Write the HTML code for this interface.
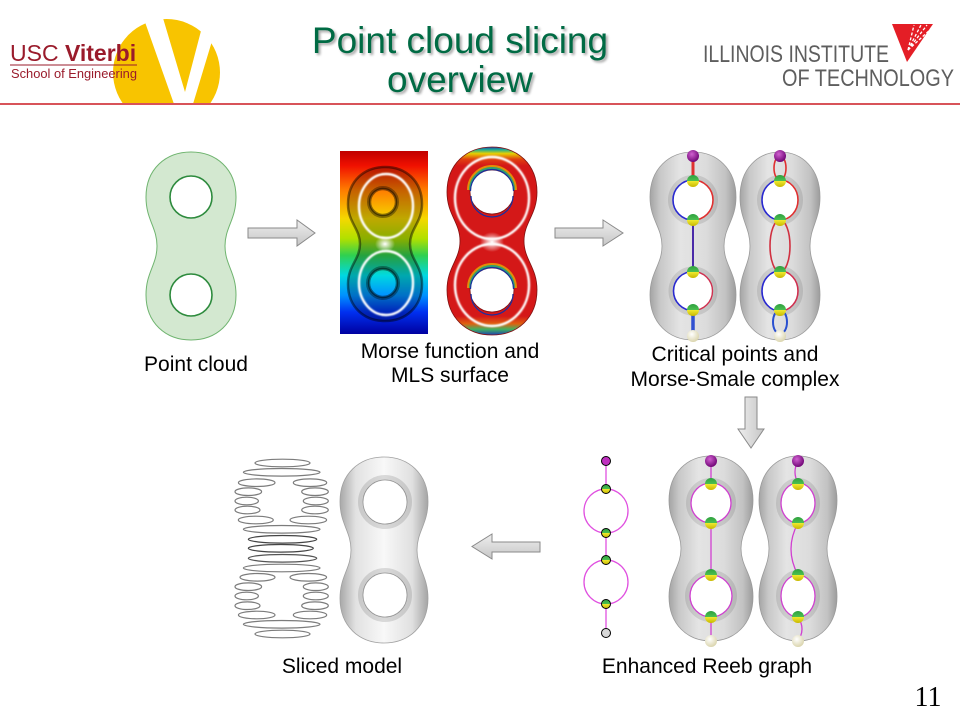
<!DOCTYPE html>
<html>
<head>
<meta charset="utf-8">
<style>
  html,body{margin:0;padding:0;background:#fff;}
  #root{position:relative;width:960px;height:720px;overflow:hidden;background:#fff;}
  svg{position:absolute;left:0;top:0;}
  text{font-family:"Liberation Sans",Arial,sans-serif;}
</style>
</head>
<body>
<div id="root">
<svg width="960" height="720" viewBox="0 0 960 720" xmlns="http://www.w3.org/2000/svg">
  <defs>
    <clipPath id="logoclip"><rect x="0" y="0" width="960" height="103"/></clipPath>
    <linearGradient id="rainbow" x1="0" y1="0" x2="0" y2="1">
      <stop offset="0" stop-color="#c00000"/>
      <stop offset="0.08" stop-color="#f01000"/>
      <stop offset="0.21" stop-color="#ff7a00"/>
      <stop offset="0.37" stop-color="#f5d800"/>
      <stop offset="0.48" stop-color="#b0e000"/>
      <stop offset="0.57" stop-color="#30d050"/>
      <stop offset="0.68" stop-color="#00d8e0"/>
      <stop offset="0.79" stop-color="#0090ff"/>
      <stop offset="0.88" stop-color="#0030f0"/>
      <stop offset="1" stop-color="#0000a0"/>
    </linearGradient>
    <linearGradient id="redfill" x1="0" y1="0" x2="0" y2="1">
      <stop offset="0" stop-color="#2040b0"/>
      <stop offset="0.015" stop-color="#20b090"/>
      <stop offset="0.035" stop-color="#e8d000"/>
      <stop offset="0.065" stop-color="#e04010"/>
      <stop offset="0.1" stop-color="#d41818"/>
      <stop offset="0.9" stop-color="#d41818"/>
      <stop offset="0.94" stop-color="#e06010"/>
      <stop offset="0.97" stop-color="#40b060"/>
      <stop offset="1" stop-color="#2040b0"/>
    </linearGradient>
    <linearGradient id="gray" x1="0" y1="0" x2="1" y2="0">
      <stop offset="0" stop-color="#a4a4a4"/>
      <stop offset="0.12" stop-color="#c8c8c8"/>
      <stop offset="0.35" stop-color="#e4e4e4"/>
      <stop offset="0.65" stop-color="#dcdcdc"/>
      <stop offset="0.88" stop-color="#c2c2c2"/>
      <stop offset="1" stop-color="#9c9c9c"/>
    </linearGradient>
    <linearGradient id="white" x1="0" y1="0" x2="1" y2="0">
      <stop offset="0" stop-color="#a8a8a8"/>
      <stop offset="0.18" stop-color="#e2e2e2"/>
      <stop offset="0.5" stop-color="#f8f8f8"/>
      <stop offset="0.82" stop-color="#e0e0e0"/>
      <stop offset="1" stop-color="#a4a4a4"/>
    </linearGradient>
    <linearGradient id="arrowg" x1="0" y1="0" x2="0" y2="1">
      <stop offset="0" stop-color="#eeeeee"/>
      <stop offset="1" stop-color="#c6c6c6"/>
    </linearGradient>
    <linearGradient id="arrowh" x1="0" y1="0" x2="1" y2="0">
      <stop offset="0" stop-color="#eeeeee"/>
      <stop offset="1" stop-color="#c6c6c6"/>
    </linearGradient>
    <linearGradient id="gy" x1="0" y1="0" x2="0" y2="1">
      <stop offset="0" stop-color="#2fa040"/>
      <stop offset="0.5" stop-color="#4cc050"/>
      <stop offset="0.5" stop-color="#f0ea30"/>
      <stop offset="1" stop-color="#c8b800"/>
    </linearGradient>
    <radialGradient id="purp" cx="0.4" cy="0.35" r="0.7">
      <stop offset="0" stop-color="#d060d0"/>
      <stop offset="1" stop-color="#6a0070"/>
    </radialGradient>
    <radialGradient id="cream" cx="0.4" cy="0.35" r="0.7">
      <stop offset="0" stop-color="#ffffff"/>
      <stop offset="1" stop-color="#d8d2a8"/>
    </radialGradient>
    <radialGradient id="glow" cx="0.5" cy="0.5" r="0.5">
      <stop offset="0" stop-color="#ffffff" stop-opacity="1"/>
      <stop offset="1" stop-color="#ffffff" stop-opacity="0"/>
    </radialGradient>
    <filter id="blur1"><feGaussianBlur stdDeviation="0.8"/></filter>
    <filter id="tshadow"><feGaussianBlur stdDeviation="1.2"/></filter>
  </defs>

  <!-- ===== Header ===== -->
  <g clip-path="url(#logoclip)">
    <circle cx="166.5" cy="72.5" r="53.5" fill="#f8c400"/>
    <polygon points="140,8 160,8 185,92 207,8 222,8 193,104 174,104" fill="#fff"/>
  </g>
  <text x="10" y="61" font-size="23" fill="#9a1b2b">USC <tspan font-weight="bold">Viterbi</tspan></text>
  <line x1="10" y1="65" x2="137" y2="65" stroke="#9a1b2b" stroke-width="1"/>
  <text x="11" y="78" font-size="13" fill="#9a1b2b" textLength="126" lengthAdjust="spacingAndGlyphs">School of Engineering</text>

  <!-- title -->
  <g font-size="37" text-anchor="middle">
    <g fill="#000" opacity="0.35" filter="url(#tshadow)">
      <text x="462" y="55">Point cloud slicing</text>
      <text x="462" y="94">overview</text>
    </g>
    <text x="460" y="53" fill="#006b44">Point cloud slicing</text>
    <text x="460" y="92" fill="#006b44">overview</text>
  </g>

  <!-- Illinois -->
  <text x="703" y="62" font-size="24" fill="#5e5e5e" textLength="186" lengthAdjust="spacingAndGlyphs">ILLINOIS INSTITUTE</text>
  <text x="782" y="86" font-size="24" fill="#5e5e5e" textLength="172" lengthAdjust="spacingAndGlyphs">OF TECHNOLOGY</text>
  <polygon points="892,24 933,24 907,62" fill="#e41e26"/>
  <g stroke="#fff" stroke-width="1.3" stroke-dasharray="3,2">
    <line x1="908" y1="50" x2="914" y2="25"/>
    <line x1="908" y1="50" x2="921" y2="25"/>
    <line x1="908" y1="50" x2="927" y2="25"/>
    <line x1="908" y1="50" x2="932" y2="28"/>
  </g>

  <line x1="0" y1="104" x2="960" y2="104" stroke="#cc1a22" stroke-width="1.5"/>

  <!-- ===== Point cloud ===== -->
  <path fill-rule="evenodd" fill="#d3e8d0" stroke="#6fb46f" stroke-width="1"
    d="M191,152 C216.2,152 236,168.9 236,197.1 C236,219.7 225,227.2 225,246 C225,264.8 236,272.3 236,294.9 C236,323.1 216.2,340 191,340 C165.8,340 146,323.1 146,294.9 C146,272.3 157,264.8 157,246 C157,227.2 146,219.7 146,197.1 C146,168.9 165.8,152 191,152 Z
       M170,197 a21,21 0 1,0 42,0 a21,21 0 1,0 -42,0 Z
       M170,295 a21,21 0 1,0 42,0 a21,21 0 1,0 -42,0 Z"/>
  <circle cx="191" cy="197" r="21" fill="none" stroke="#2e8b3e" stroke-width="1.6"/>
  <circle cx="191" cy="295" r="21" fill="none" stroke="#2e8b3e" stroke-width="1.6"/>

  <!-- arrow 1 -->
  <polygon points="248,228 297,228 297,220 315,233 297,246 297,238 248,238" fill="url(#arrowg)" stroke="#8a8a8a" stroke-width="1"/>

  <!-- ===== Morse function rect ===== -->
  <rect x="340" y="151" width="88" height="183" fill="url(#rainbow)"/>
  <path fill-rule="evenodd" fill="#000" fill-opacity="0.22" stroke="#000" stroke-opacity="0.45" stroke-width="2.5"
    d="M385,167 C405.7,167 422,180.9 422,204 C422,222.4 410,228.6 410,244 C410,259.4 422,265.6 422,284 C422,307.1 405.7,321 385,321 C364.3,321 348,307.1 348,284 C348,265.6 360,259.4 360,244 C360,228.6 348,222.4 348,204 C348,180.9 364.3,167 385,167 Z
       M370,202 a13,13 0 1,0 26,0 a13,13 0 1,0 -26,0 Z
       M369,283 a14,14 0 1,0 28,0 a14,14 0 1,0 -28,0 Z"/>
  <circle cx="383" cy="202" r="14.5" fill="none" stroke="#000" stroke-opacity="0.35" stroke-width="3"/>
  <circle cx="383" cy="283" r="15.5" fill="none" stroke="#000" stroke-opacity="0.35" stroke-width="3"/>
  <g fill="none" stroke="#fff" stroke-width="2.4" filter="url(#blur1)">
    <ellipse cx="386" cy="206" rx="27" ry="32"/>
    <ellipse cx="386" cy="283" rx="27" ry="32"/>
  </g>
  <ellipse cx="385" cy="244" rx="10" ry="8" fill="url(#glow)"/>

  <!-- ===== Red MLS surface ===== -->
  <path fill-rule="evenodd" fill="url(#redfill)" stroke="#801010" stroke-width="0.8"
    d="M492,147 C517.2,147 537,163.9 537,192.1 C537,214.7 524,222.2 524,241 C524,259.8 537,267.3 537,289.9 C537,318.1 517.2,335 492,335 C466.8,335 447,318.1 447,289.9 C447,267.3 460,259.8 460,241 C460,222.2 447,214.7 447,192.1 C447,163.9 466.8,147 492,147 Z
       M470,192 a22,22 0 1,0 44,0 a22,22 0 1,0 -44,0 Z
       M470,290 a22,22 0 1,0 44,0 a22,22 0 1,0 -44,0 Z"/>
  <g fill="none">
    <path d="M469,190 A23,23 0 0,1 515,190" stroke="#e8c000" stroke-width="4" opacity="0.7"/>
    <path d="M470,190 A22,22 0 0,1 514,190" stroke="#30a070" stroke-width="2"/>
    <path d="M470.5,191 A21.5,21.5 0 0,1 513.5,191" stroke="#1830a0" stroke-width="1.2"/>
    <path d="M469,288 A23,23 0 0,1 515,288" stroke="#e8c000" stroke-width="4" opacity="0.7"/>
    <path d="M470,288 A22,22 0 0,1 514,288" stroke="#30a070" stroke-width="2"/>
    <path d="M470.5,289 A21.5,21.5 0 0,1 513.5,289" stroke="#1830a0" stroke-width="1.2"/>
    <path d="M471,196 A21,21 0 0,0 513,196" stroke="#1830a0" stroke-width="1.2"/>
    <path d="M471,294 A21,21 0 0,0 513,294" stroke="#1830a0" stroke-width="1.2"/>
  </g>
  <g fill="none" stroke="#fff" stroke-width="2.4" filter="url(#blur1)">
    <ellipse cx="492" cy="198" rx="37" ry="41"/>
    <ellipse cx="492" cy="285" rx="37" ry="41"/>
  </g>
  <ellipse cx="492" cy="242" rx="12" ry="10" fill="url(#glow)"/>

  <!-- arrow 2 -->
  <polygon points="555,228 603,228 603,220 623,233 603,246 603,238 555,238" fill="url(#arrowg)" stroke="#8a8a8a" stroke-width="1"/>

  <!-- ===== Morse-Smale complex ===== -->
  <path fill-rule="evenodd" fill="url(#gray)" stroke="#9a9a9a" stroke-width="0.8"
    d="M693,152 C717.1,152 736,168.9 736,197.1 C736,219.7 724,227.2 724,246 C724,264.8 736,272.3 736,294.9 C736,323.1 717.1,340 693,340 C668.9,340 650,323.1 650,294.9 C650,272.3 662,264.8 662,246 C662,227.2 650,219.7 650,197.1 C650,168.9 668.9,152 693,152 Z
       M673,200 a20,20 0 1,0 40,0 a20,20 0 1,0 -40,0 Z
       M673.5,291 a19.5,19.5 0 1,0 39,0 a19.5,19.5 0 1,0 -39,0 Z"/>
  <path fill-rule="evenodd" fill="url(#gray)" stroke="#9a9a9a" stroke-width="0.8"
    d="M780,152 C802.4,152 820,168.9 820,197.1 C820,219.7 810,227.2 810,246 C810,264.8 820,272.3 820,294.9 C820,323.1 802.4,340 780,340 C757.6,340 740,323.1 740,294.9 C740,272.3 750,264.8 750,246 C750,227.2 740,219.7 740,197.1 C740,168.9 757.6,152 780,152 Z
       M762,200 a18,20 0 1,0 36,0 a18,20 0 1,0 -36,0 Z
       M762,291 a18,20 0 1,0 36,0 a18,20 0 1,0 -36,0 Z"/>
  <g fill="none" stroke="#000" stroke-opacity="0.1" stroke-width="5">
    <circle cx="693" cy="200" r="22.5"/>
    <circle cx="693" cy="291" r="22"/>
    <ellipse cx="780" cy="200" rx="20.5" ry="22.5"/>
    <ellipse cx="780" cy="291" rx="20.5" ry="22.5"/>
  </g>
  <!-- left MS lines -->
  <g fill="none">
    <line x1="693" y1="157" x2="693" y2="180" stroke="#e03030" stroke-width="3"/>
    <path d="M693,180 A20,20 0 0,0 693,220" stroke="#2a2ad0" stroke-width="1.6"/>
    <path d="M693,180 A20,20 0 0,1 693,220" stroke="#e03030" stroke-width="1.6"/>
    <line x1="693" y1="220" x2="693" y2="272" stroke="#4a2aa8" stroke-width="2"/>
    <path d="M693,271.5 A19.5,19.5 0 0,0 693,310.5" stroke="#2a2ad0" stroke-width="1.6"/>
    <path d="M693,271.5 A19.5,19.5 0 0,1 693,310.5" stroke="#d03050" stroke-width="1.4"/>
    <line x1="693" y1="310" x2="693" y2="335" stroke="#3050d0" stroke-width="3.5"/>
  </g>
  <!-- right MS lines -->
  <g fill="none" stroke-width="1.6">
    <ellipse cx="780" cy="168" rx="6" ry="12" stroke="#e03030"/>
    <path d="M780,180 A18,20 0 0,0 780,220" stroke="#2a2ad0"/>
    <path d="M780,180 A18,20 0 0,1 780,220" stroke="#e03030"/>
    <ellipse cx="780" cy="246" rx="10" ry="26" stroke="#d03040"/>
    <path d="M780,271 A18,20 0 0,0 780,311" stroke="#2a2ad0"/>
    <path d="M780,271 A18,20 0 0,1 780,311" stroke="#d03050"/>
    <ellipse cx="780" cy="322" rx="7" ry="12" stroke="#2a50d0" stroke-width="2"/>
  </g>
  <!-- spheres MS -->
  <g>
    <circle cx="693" cy="156" r="6" fill="url(#purp)"/>
    <circle cx="693" cy="181" r="6" fill="url(#gy)"/>
    <circle cx="693" cy="220" r="6" fill="url(#gy)"/>
    <circle cx="693" cy="272" r="6" fill="url(#gy)"/>
    <circle cx="693" cy="310" r="6" fill="url(#gy)"/>
    <circle cx="693" cy="336" r="6" fill="url(#cream)"/>
    <circle cx="780" cy="156" r="6" fill="url(#purp)"/>
    <circle cx="780" cy="181" r="6" fill="url(#gy)"/>
    <circle cx="780" cy="220" r="6" fill="url(#gy)"/>
    <circle cx="780" cy="272" r="6" fill="url(#gy)"/>
    <circle cx="780" cy="310" r="6" fill="url(#gy)"/>
    <circle cx="780" cy="336" r="6" fill="url(#cream)"/>
  </g>

  <!-- down arrow -->
  <polygon points="745,397 757,397 757,429 764,429 751,448 738,429 745,429" fill="url(#arrowh)" stroke="#8a8a8a" stroke-width="1"/>

  <!-- ===== Reeb graph (abstract) ===== -->
  <g fill="none" stroke="#e050e0" stroke-width="1.3">
    <line x1="606" y1="461" x2="606" y2="489"/>
    <circle cx="606" cy="511" r="22"/>
    <line x1="606" y1="533" x2="606" y2="560"/>
    <circle cx="606" cy="582" r="22"/>
    <line x1="606" y1="604" x2="606" y2="633"/>
  </g>
  <g stroke="#000" stroke-width="1">
    <circle cx="606" cy="461" r="4.5" fill="#c030c0"/>
    <circle cx="606" cy="489" r="4.5" fill="url(#gy)"/>
    <circle cx="606" cy="533" r="4.5" fill="url(#gy)"/>
    <circle cx="606" cy="560" r="4.5" fill="url(#gy)"/>
    <circle cx="606" cy="604" r="4.5" fill="url(#gy)"/>
    <circle cx="606" cy="633" r="4.5" fill="#d8d8d8"/>
  </g>

  <!-- Reeb gray shapes -->
  <path fill-rule="evenodd" fill="url(#gray)" stroke="#9a9a9a" stroke-width="0.8"
    d="M711,456 C734.5,456 753,472.7 753,500.4 C753,522.6 741,530 741,548.5 C741,567 753,574.4 753,596.6 C753,624.4 734.5,641 711,641 C687.5,641 669,624.4 669,596.6 C669,574.4 681,567 681,548.5 C681,530 669,522.6 669,500.4 C669,472.7 687.5,456 711,456 Z
       M691,503 a20,20 0 1,0 40,0 a20,20 0 1,0 -40,0 Z
       M690,596 a21,21 0 1,0 42,0 a21,21 0 1,0 -42,0 Z"/>
  <path fill-rule="evenodd" fill="url(#gray)" stroke="#9a9a9a" stroke-width="0.8"
    d="M798,456 C819.8,456 837,472.7 837,500.4 C837,522.6 827,530 827,548.5 C827,567 837,574.4 837,596.6 C837,624.4 819.8,641 798,641 C776.2,641 759,624.4 759,596.6 C759,574.4 769,567 769,548.5 C769,530 759,522.6 759,500.4 C759,472.7 776.2,456 798,456 Z
       M781,503 a17,20 0 1,0 34,0 a17,20 0 1,0 -34,0 Z
       M781,596 a17,21 0 1,0 34,0 a17,21 0 1,0 -34,0 Z"/>
  <g fill="none" stroke="#000" stroke-opacity="0.1" stroke-width="5">
    <circle cx="711" cy="503" r="22.5"/>
    <circle cx="711" cy="596" r="23.5"/>
    <ellipse cx="798" cy="503" rx="19.5" ry="22.5"/>
    <ellipse cx="798" cy="596" rx="19.5" ry="23.5"/>
  </g>
  <g fill="none" stroke="#d040d0" stroke-width="1.3">
    <line x1="711" y1="461" x2="711" y2="483"/>
    <circle cx="711" cy="503" r="20"/>
    <line x1="711" y1="523" x2="711" y2="575"/>
    <circle cx="711" cy="596" r="21"/>
    <line x1="711" y1="617" x2="711" y2="641"/>
    <path d="M798,461 Q792,472 798,483"/>
    <ellipse cx="798" cy="503" rx="17" ry="20"/>
    <path d="M798,523 Q784,549 798,575"/>
    <ellipse cx="798" cy="596" rx="17" ry="21"/>
    <path d="M798,617 Q806,629 798,641"/>
  </g>
  <g>
    <circle cx="711" cy="461" r="6" fill="url(#purp)"/>
    <circle cx="711" cy="484" r="6" fill="url(#gy)"/>
    <circle cx="711" cy="523" r="6" fill="url(#gy)"/>
    <circle cx="711" cy="575" r="6" fill="url(#gy)"/>
    <circle cx="711" cy="617" r="6" fill="url(#gy)"/>
    <circle cx="711" cy="641" r="6" fill="url(#cream)"/>
    <circle cx="798" cy="461" r="6" fill="url(#purp)"/>
    <circle cx="798" cy="484" r="6" fill="url(#gy)"/>
    <circle cx="798" cy="523" r="6" fill="url(#gy)"/>
    <circle cx="798" cy="575" r="6" fill="url(#gy)"/>
    <circle cx="798" cy="617" r="6" fill="url(#gy)"/>
    <circle cx="798" cy="641" r="6" fill="url(#cream)"/>
  </g>

  <!-- left arrow -->
  <polygon points="540,542 492,542 492,534 472,546.5 492,559 492,552 540,552" fill="url(#arrowg)" stroke="#8a8a8a" stroke-width="1"/>

  <!-- ===== Sliced model ===== -->
  <g fill="none" stroke="#7c7c7c" stroke-width="1.2">
    <ellipse cx="282.5" cy="463" rx="27.5" ry="3.8"/>
    <ellipse cx="281.7" cy="472.3" rx="38.3" ry="3.8"/>
    <ellipse cx="256.7" cy="482.7" rx="18.3" ry="3.8"/>
    <ellipse cx="310" cy="482.7" rx="16.7" ry="3.8"/>
    <ellipse cx="248.3" cy="491.7" rx="13.3" ry="3.8"/>
    <ellipse cx="315" cy="491.7" rx="13.3" ry="3.8"/>
    <ellipse cx="246.7" cy="501" rx="11.7" ry="3.8"/>
    <ellipse cx="315.8" cy="501" rx="12.5" ry="3.8"/>
    <ellipse cx="247.5" cy="510" rx="12.5" ry="3.8"/>
    <ellipse cx="315" cy="510" rx="13.3" ry="3.8"/>
    <ellipse cx="255.8" cy="520" rx="17.5" ry="3.8"/>
    <ellipse cx="308.3" cy="520" rx="18.3" ry="3.8"/>
    <ellipse cx="281.7" cy="529.3" rx="38.3" ry="3.8"/>
    <ellipse cx="282.5" cy="539.3" rx="34.2" ry="3.8" stroke="#444"/>
    <ellipse cx="280.8" cy="548.3" rx="32.5" ry="3.8" stroke="#444"/>
    <ellipse cx="282.5" cy="558.3" rx="34.2" ry="3.8" stroke="#555"/>
    <ellipse cx="281.7" cy="568" rx="38.3" ry="3.8"/>
    <ellipse cx="257.5" cy="577.3" rx="17.5" ry="3.8"/>
    <ellipse cx="308.3" cy="577.3" rx="18.3" ry="3.8"/>
    <ellipse cx="248.3" cy="586.7" rx="13.3" ry="3.8"/>
    <ellipse cx="315.8" cy="586.7" rx="12.5" ry="3.8"/>
    <ellipse cx="246.7" cy="596" rx="11.7" ry="3.8"/>
    <ellipse cx="315.8" cy="596" rx="12.5" ry="3.8"/>
    <ellipse cx="247.5" cy="605.7" rx="12.5" ry="3.8"/>
    <ellipse cx="315" cy="605.7" rx="13.3" ry="3.8"/>
    <ellipse cx="256.7" cy="615" rx="18.3" ry="3.8"/>
    <ellipse cx="310" cy="615" rx="16.7" ry="3.8"/>
    <ellipse cx="281.7" cy="624.3" rx="38.3" ry="3.8"/>
    <ellipse cx="282.5" cy="634" rx="27.5" ry="3.8"/>
  </g>
  <path fill-rule="evenodd" fill="url(#white)" stroke="#a0a0a0" stroke-width="0.8"
    d="M384,457 C408.6,457 428,473.7 428,501.6 C428,524 417,531.4 417,550 C417,568.6 428,576 428,598.4 C428,626.3 408.6,643 384,643 C359.4,643 340,626.3 340,598.4 C340,576 351,568.6 351,550 C351,531.4 340,524 340,501.6 C340,473.7 359.4,457 384,457 Z
       M363,502 a22,22 0 1,0 44,0 a22,22 0 1,0 -44,0 Z
       M363,595 a22,22 0 1,0 44,0 a22,22 0 1,0 -44,0 Z"/>
  <g fill="none" stroke="#000" stroke-opacity="0.12" stroke-width="5">
    <circle cx="385" cy="502" r="24.5"/>
    <circle cx="385" cy="595" r="24.5"/>
  </g>

  <!-- ===== Labels ===== -->
  <g font-size="21" fill="#000" text-anchor="middle">
    <text x="196" y="371">Point cloud</text>
    <text x="450" y="358">Morse function and</text>
    <text x="450" y="382">MLS surface</text>
    <text x="735" y="361">Critical points and</text>
    <text x="735" y="386">Morse-Smale complex</text>
    <text x="342" y="673">Sliced model</text>
    <text x="707" y="673">Enhanced Reeb graph</text>
  </g>
  <text x="928" y="706" font-size="28" text-anchor="middle" fill="#000" style="font-family:'Liberation Serif','Times New Roman',serif">11</text>
</svg>
</div>
</body>
</html>
